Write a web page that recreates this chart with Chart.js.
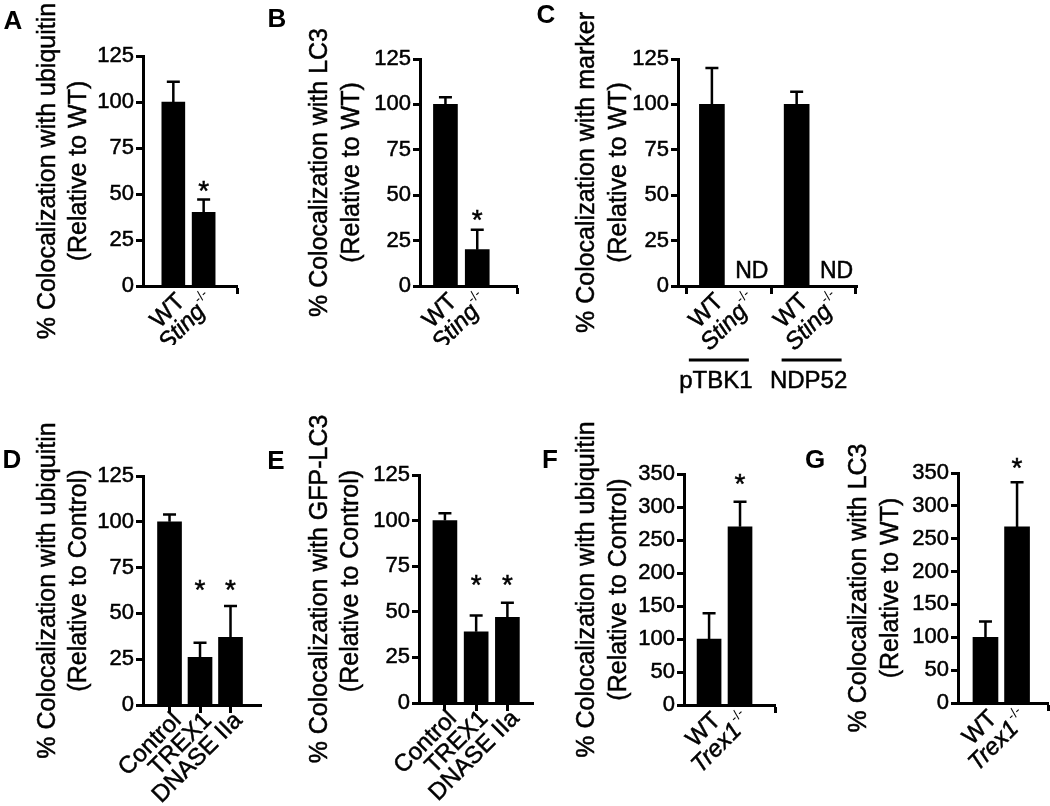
<!DOCTYPE html>
<html><head><meta charset="utf-8">
<script src="https://cdn.jsdelivr.net/npm/chart.js@4/dist/chart.umd.min.js"></script>
<style>
html,body{margin:0;padding:0;background:#fff;}
#wrap{position:relative;width:1050px;height:806px;overflow:hidden;background:#fff;}
canvas{position:absolute;}
</style></head><body><div id="wrap">
<canvas id="cA"></canvas><canvas id="cB"></canvas><canvas id="cC"></canvas>
<canvas id="cD"></canvas><canvas id="cE"></canvas><canvas id="cF"></canvas><canvas id="cG"></canvas>
</div>
<script>
const FONT = '"Liberation Sans", Arial, Helvetica, sans-serif';

// ---------- DATA ----------
const yTicksLow  = [0, 25, 50, 75, 100, 125];
const yTicksHigh = [0, 50, 100, 150, 200, 250, 300, 350];

const catsA = ['WT', 'Sting-/-'];
const valsA = [100, 40];
const errsA = [11, 7];
const sigA  = [0, 1];
const titleA = ['% Colocalization with ubiquitin', '(Relative to WT)'];

const catsB = ['WT', 'Sting-/-'];
const valsB = [100, 20];
const errsB = [4, 11];
const sigB  = [0, 1];
const titleB = ['% Colocalization with LC3', '(Relative to WT)'];

const groupsC = ['pTBK1', 'NDP52'];
const groupOfC = [0, 0, 1, 1];
const catsC = ['WT', 'Sting-/-', 'WT', 'Sting-/-'];
const valsC = [100, null, 100, null];
const errsC = [20, null, 7, null];
const ndC   = [0, 1, 0, 1];
const titleC = ['% Colocalization with marker', '(Relative to WT)'];

const catsD = ['Control', 'TREX1', 'DNASE IIa'];
const valsD = [100, 26, 37];
const errsD = [4, 8, 17];
const sigD  = [0, 1, 1];
const titleD = ['% Colocalization with ubiquitin', '(Relative to Control)'];

const catsE = ['Control', 'TREX1', 'DNASE IIa'];
const valsE = [100, 39, 47];
const errsE = [4, 9, 8];
const sigE  = [0, 1, 1];
const titleE = ['% Colocalization with GFP-LC3', '(Relative to Control)'];

const catsF = ['WT', 'Trex1-/-'];
const valsF = [100, 270];
const errsF = [39, 38];
const sigF  = [0, 1];
const titleF = ['% Colocalization with ubiquitin', '(Relative to Control)'];

const catsG = ['WT', 'Trex1-/-'];
const valsG = [100, 268];
const errsG = [24, 68];
const sigG  = [0, 1];
const titleG = ['% Colocalization with LC3', '(Relative to WT)'];

// ---------- LAYOUT ----------
function seqPos(n){ return Array.from({length:n}, (_, i) => i + 1); }
function midBounds(pos, skip){ const b=[]; for(let i=1;i<pos.length;i++){ if(!skip || !skip(i)) b.push((pos[i-1]+pos[i])/2);} return b; }

const posC = catsC.map((_, i) => i + 1 + groupOfC[i] * 0.5);

const panels = [
 {id:'cA', letter:'A', lx:13, ly:22, box:[0,0,260,345], axisX:143, top:56, bottom:286, end:237, xmin:0, xmax:3.1, bar:23,
  cats:catsA, vals:valsA, errs:errsA, sig:sigA, title:titleA, t1x:48, t2x:79, yticks:yTicksLow, starGap:15},
 {id:'cB', letter:'B', lx:277, ly:20, box:[255,0,275,345], axisX:420, top:59, bottom:286, end:517, xmin:0.2, xmax:3.25, bar:24,
  cats:catsB, vals:valsB, errs:errsB, sig:sigB, title:titleB, t1x:320, t2x:352, yticks:yTicksLow, starGap:17},
 {id:'cC', letter:'C', lx:546, ly:16, box:[530,0,520,420], axisX:678, top:59, bottom:286, end:857, xmin:0, xmax:5.28, bar:25,
  cats:catsC, vals:valsC, errs:errsC, nd:ndC, title:titleC, t1x:587, t2x:619, yticks:yTicksLow, pos:posC,
  groups:groupsC, groupOf:groupOfC, groupLineY:360, groupLabelY:381, groupHalf:30, groupShift:[-10, -2]},
 {id:'cD', letter:'D', lx:12, ly:461, box:[0,415,270,391], axisX:143, top:476, bottom:705, end:261, xmin:0.13, xmax:4.0, bar:24,
  cats:catsD, vals:valsD, errs:errsD, sig:sigD, title:titleD, t1x:48, t2x:79, yticks:yTicksLow, starGap:23, t2dy:-10},
 {id:'cE', letter:'E', lx:276, ly:462, box:[262,415,280,391], axisX:419, top:475, bottom:703, end:533, xmin:0.17, xmax:3.82, bar:24,
  cats:catsE, vals:valsE, errs:errsE, sig:sigE, title:titleE, t1x:320, t2x:351, yticks:yTicksLow, starGap:25, t2dy:-8},
 {id:'cF', letter:'F', lx:550, ly:461, box:[538,415,250,391], axisX:684, top:474, bottom:705, end:775, xmin:0.19, xmax:3.13, bar:24,
  cats:catsF, vals:valsF, errs:errsF, sig:sigF, title:titleF, t1x:587, t2x:619, yticks:yTicksHigh, starGap:25},
 {id:'cG', letter:'G', lx:815, ly:461, box:[795,415,255,391], axisX:958, top:473, bottom:703, end:1048, xmin:0.13, xmax:2.98, bar:25,
  cats:catsG, vals:valsG, errs:errsG, sig:sigG, title:titleG, t1x:859, t2x:891, yticks:yTicksHigh, starGap:21}
];

const LABEL_SIZE = 24, TICK_SIZE = 22, TITLE_SIZE = 25, STROKE = 0.5;

function fillT(ctx, t, x, y){
  ctx.fillText(t, x, y);
  ctx.lineWidth = STROKE; ctx.strokeText(t, x, y);
}

function drawCatLabel(ctx, text, x, y, size){
  ctx.save();
  ctx.translate(x, y);
  ctx.rotate(-Math.PI/4);
  ctx.fillStyle = '#000'; ctx.strokeStyle = '#000';
  ctx.textBaseline = 'middle';
  ctx.textAlign = 'right';
  let base = text, sup = '';
  if (text.endsWith('-/-')) { base = text.slice(0, -3); sup = '-/-'; }
  let xr = 0;
  if (sup) {
    ctx.font = Math.round(size*0.58) + 'px ' + FONT;
    ctx.fillText(sup, 0, -size*0.36);
    xr = -ctx.measureText(sup).width - 1;
    ctx.font = 'italic ' + size + 'px ' + FONT;
  } else {
    ctx.font = size + 'px ' + FONT;
  }
  fillT(ctx, base, xr, 0);
  ctx.restore();
}

function makePlugin(P){
  return {
    id: 'panel' + P.letter,
    afterDraw(chart){
      const ctx = chart.ctx;
      const xs = chart.scales.x, ys = chart.scales.y;
      const ox = P.box[0], oy = P.box[1];
      const meta = chart.getDatasetMeta(0);
      ctx.save();
      ctx.fillStyle = '#000'; ctx.strokeStyle = '#000';
      // panel letter
      ctx.font = 'bold 26px ' + FONT;
      ctx.textAlign = 'center'; ctx.textBaseline = 'middle';
      ctx.fillText(P.letter, P.lx - ox, P.ly - oy);
      // axis title
      const tyc = (ys.top + ys.bottom) / 2;
      ctx.font = TITLE_SIZE + 'px ' + FONT;
      [[P.title[0], P.t1x, 0], [P.title[1], P.t2x, P.t2dy || 0]].forEach(([t, tx, dy]) => {
        ctx.save(); ctx.translate(tx - ox, tyc + dy); ctx.rotate(-Math.PI/2);
        ctx.textAlign = 'center'; ctx.textBaseline = 'middle';
        fillT(ctx, t, 0, 0); ctx.restore();
      });
      // error bars
      ctx.lineWidth = 2.5; ctx.lineCap = 'butt';
      const xPix = P.vals.map((v, i) => xs.getPixelForValue(P.pos[i]));
      P.vals.forEach((v, i) => {
        if (v == null) return;
        const x = meta.data[i] ? meta.data[i].x : xPix[i];
        const y0 = ys.getPixelForValue(v), y1 = ys.getPixelForValue(v + P.errs[i]);
        ctx.beginPath();
        ctx.moveTo(x, y0); ctx.lineTo(x, y1);
        ctx.moveTo(x - 6.5, y1); ctx.lineTo(x + 6.5, y1);
        ctx.stroke();
      });
      // significance stars
      if (P.sig) {
        let topY = Infinity;
        P.sig.forEach((s, i) => { if (s) topY = Math.min(topY, ys.getPixelForValue(P.vals[i] + P.errs[i])); });
        const cy = topY - P.starGap;
        ctx.font = '28px ' + FONT; ctx.textAlign = 'center'; ctx.textBaseline = 'alphabetic';
        P.sig.forEach((s, i) => { if (s) fillT(ctx, '*', xPix[i], cy + 28*0.57); });
      }
      // ND labels
      if (P.nd) {
        ctx.font = '23px ' + FONT; ctx.textAlign = 'center'; ctx.textBaseline = 'middle';
        P.nd.forEach((n, i) => { if (n) fillT(ctx, 'ND', xPix[i] + 6, ys.bottom - 14); });
      }
      // category labels
      P.cats.forEach((c, i) => drawCatLabel(ctx, c, xPix[i] + 8, ys.bottom + 12, LABEL_SIZE));
      // group lines / labels
      if (P.groups) {
        ctx.font = '24px ' + FONT; ctx.textAlign = 'center'; ctx.textBaseline = 'middle';
        P.groups.forEach((g, gi) => {
          const xsG = xPix.filter((_, i) => P.groupOf[i] === gi);
          const cx = (Math.min(...xsG) + Math.max(...xsG)) / 2 + P.groupShift[gi];
          ctx.lineWidth = 3;
          ctx.beginPath(); ctx.moveTo(cx - P.groupHalf, P.groupLineY - oy); ctx.lineTo(cx + P.groupHalf, P.groupLineY - oy); ctx.stroke();
          fillT(ctx, g, cx - 3, P.groupLabelY - oy);
        });
      }
      ctx.restore();
    }
  };
}

function buildPanel(P){
  const cv = document.getElementById(P.id);
  const [L, T, W, H] = P.box;
  cv.style.left = L + 'px'; cv.style.top = T + 'px';
  cv.width = W; cv.height = H; cv.style.width = W + 'px'; cv.style.height = H + 'px';
  if (!P.pos) P.pos = seqPos(P.cats.length);
  const bounds = P.groupOf ? midBounds(P.pos, i => P.groupOf[i] !== P.groupOf[i-1]) : midBounds(P.pos);
  const data = P.vals.map((v, i) => ({x: P.pos[i], y: v}));
  new Chart(cv, {
    type: 'bar',
    data: { datasets: [{ data, backgroundColor: '#000', borderWidth: 0, barThickness: P.bar }] },
    options: {
      responsive: false, animation: false, devicePixelRatio: 1,
      layout: { padding: { left: 0, top: P.top - T, right: (L + W) - P.end, bottom: 0 } },
      plugins: { legend: { display: false }, tooltip: { enabled: false }, title: { display: false } },
      scales: {
        x: { type: 'linear', min: P.xmin, max: P.xmax, offset: false,
             afterBuildTicks: a => { a.ticks = bounds.map(v => ({ value: v })); },
             afterFit: a => { a.height = (T + H) - P.bottom; },
             ticks: { display: false },
             grid: { drawOnChartArea: false, drawTicks: true, tickLength: 8, tickWidth: 3, tickColor: '#000' },
             border: { display: true, color: '#000', width: 3 } },
        y: { type: 'linear', min: P.yticks[0], max: P.yticks[P.yticks.length - 1],
             afterBuildTicks: a => { a.ticks = P.yticks.map(v => ({ value: v })); },
             afterFit: a => { a.width = P.axisX - L; },
             ticks: { color: '#000', font: { family: FONT, size: TICK_SIZE }, padding: 2,
                      textStrokeColor: '#000', textStrokeWidth: STROKE },
             grid: { drawOnChartArea: false, drawTicks: true, tickLength: 7, tickWidth: 3, tickColor: '#000' },
             border: { display: true, color: '#000', width: 3 } }
      }
    },
    plugins: [makePlugin(P)]
  });
}

panels.forEach(buildPanel);
</script>
</body></html>
